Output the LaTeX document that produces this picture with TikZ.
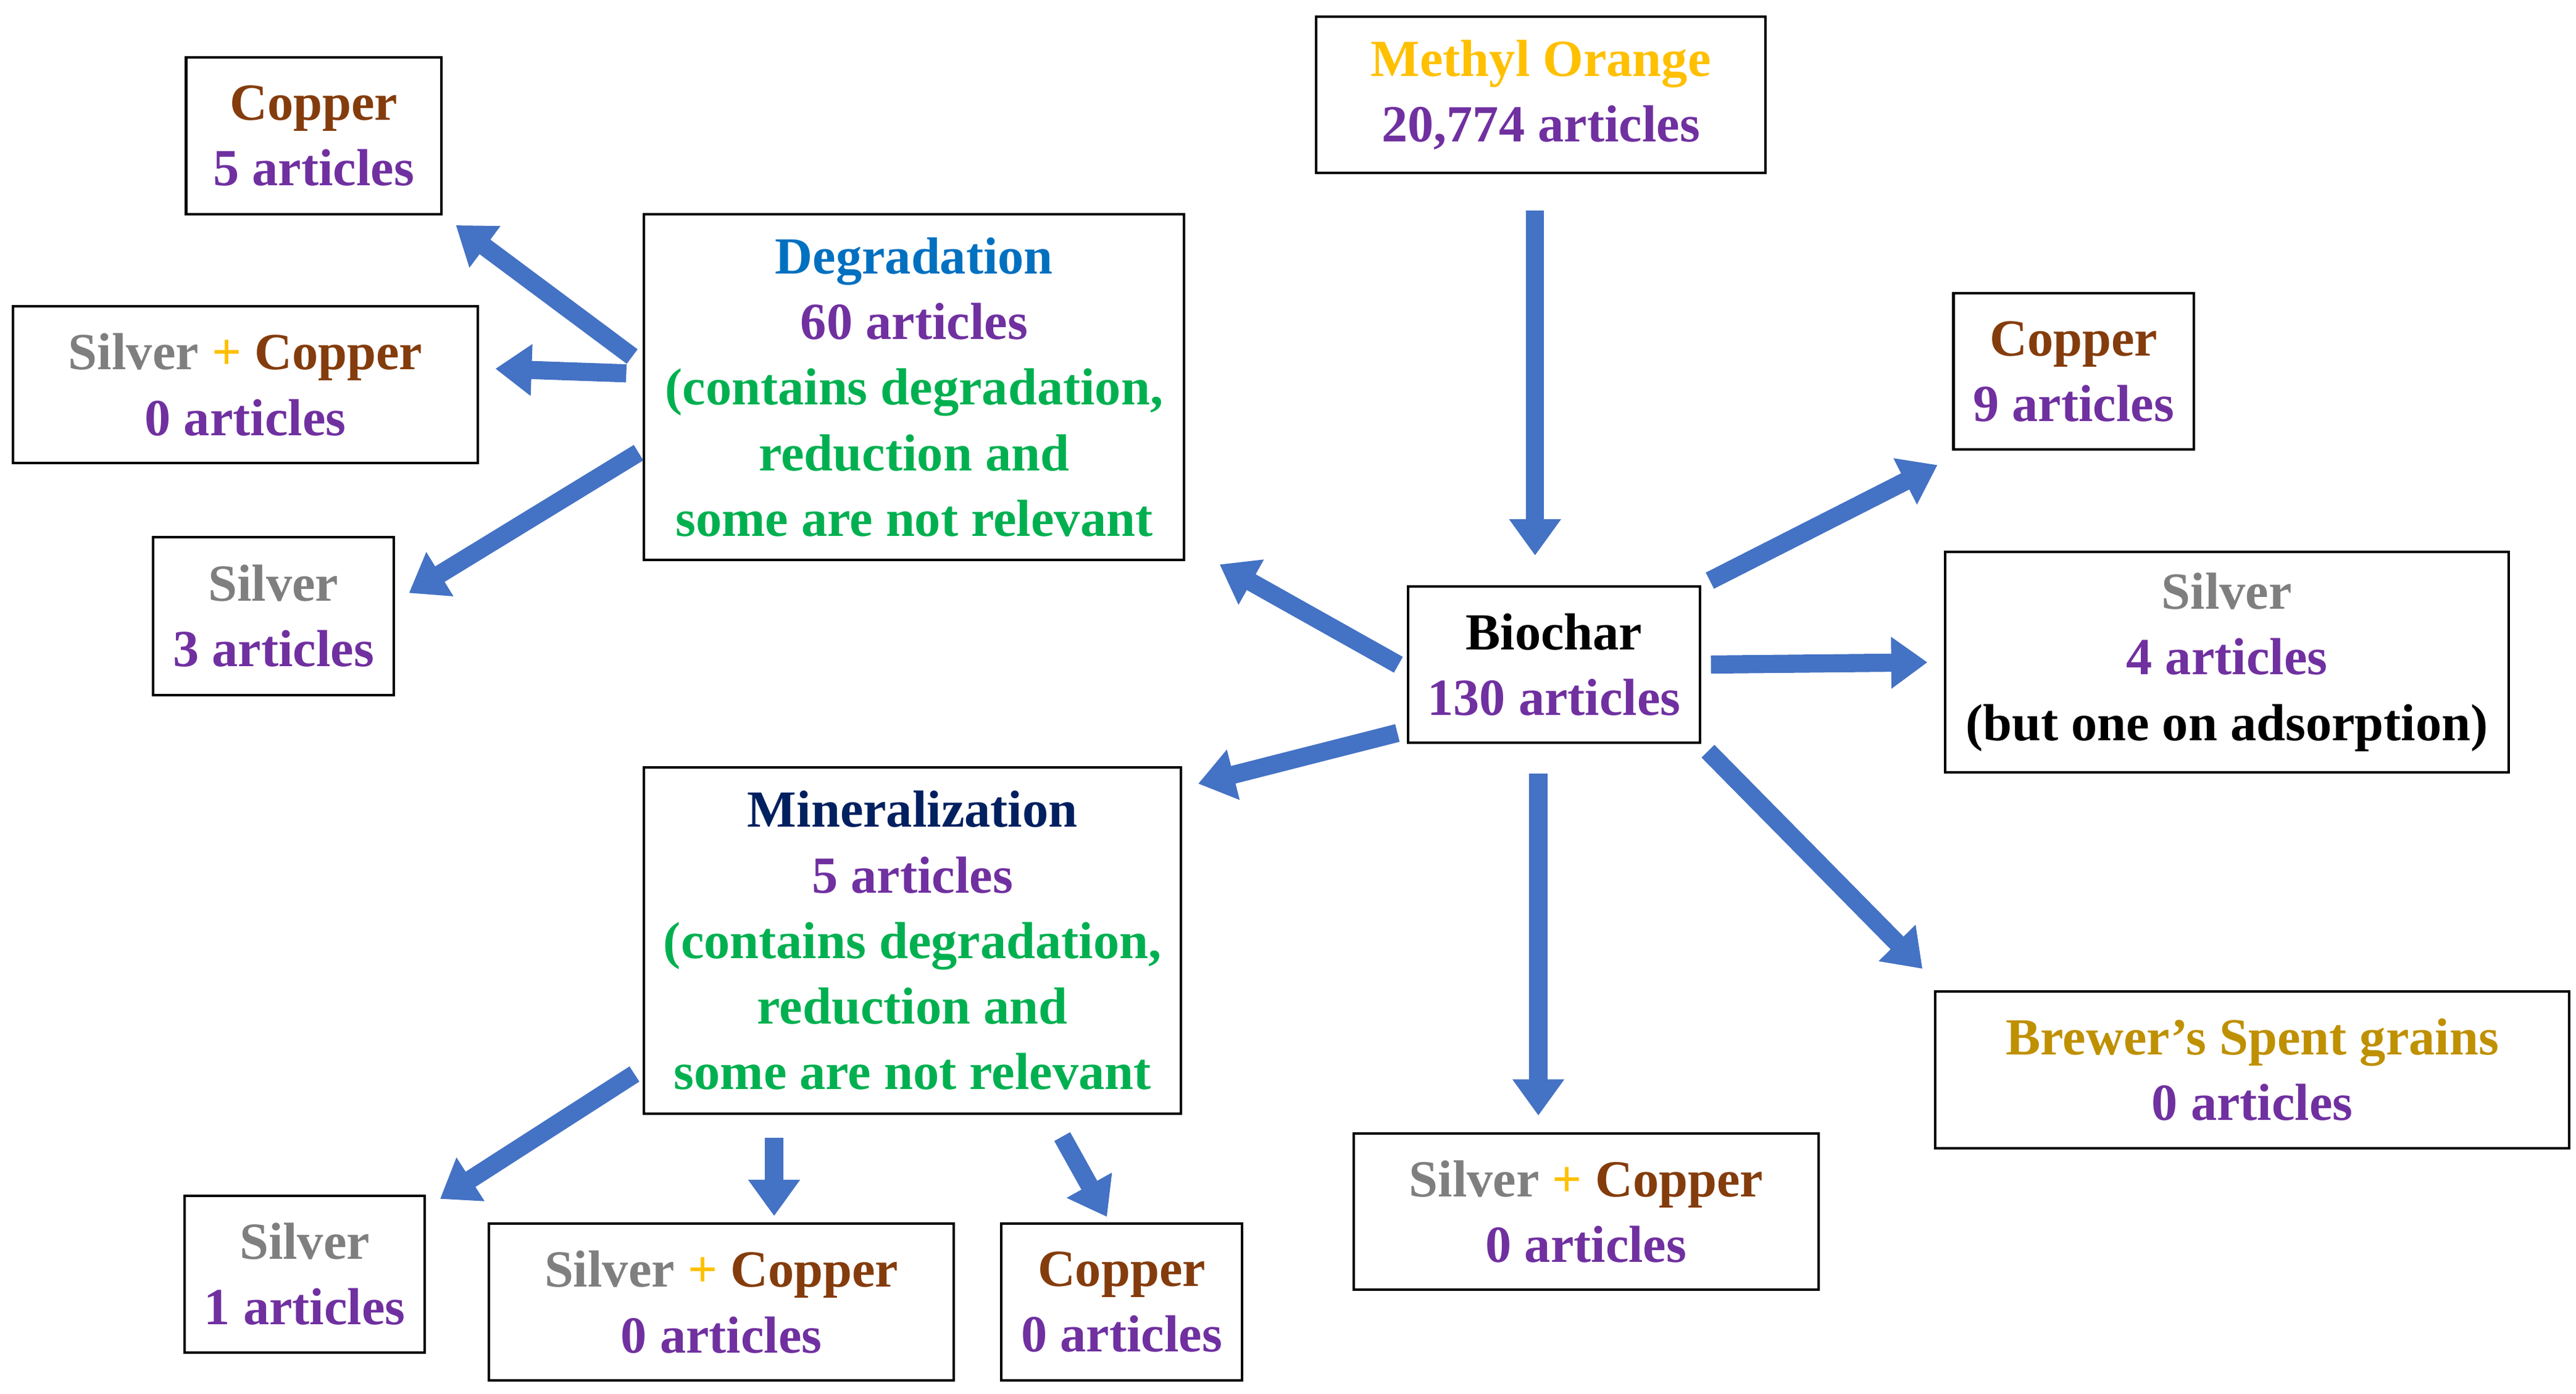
\documentclass[tikz,border=0pt]{standalone}
\usepackage{fontspec}
\setmainfont{Liberation Serif}
\usetikzlibrary{arrows.meta}
\definecolor{cu}{HTML}{843C0C}
\definecolor{ag}{HTML}{7F7F7F}
\definecolor{gold}{HTML}{FFC000}
\definecolor{pur}{HTML}{7030A0}
\definecolor{degc}{HTML}{0070C0}
\definecolor{grn}{HTML}{00B050}
\definecolor{minc}{HTML}{002060}
\definecolor{brw}{HTML}{BF9000}
\definecolor{arr}{HTML}{4472C4}
\def\u{0.03cm}
\tikzset{
 box/.style={draw=black,line width=1.3pt,align=center,inner sep=0pt,font=\bfseries\fontsize{27}{34}\selectfont},
 bigarrow/.style={draw=arr,line width=11*\u,-{Triangle[length=22*\u,width=30*\u]},shorten >=10*\u,shorten <=6*\u}
}
\newcommand{\bx}[6]{\node[box,minimum width=#3*\u,minimum height=#4*\u] (#1) at (#2) {#6};}
\begin{document}
\begin{tikzpicture}[x=0.03cm,y=-0.03cm]
\useasboundingbox (0,0) rectangle (1564,846);
\bx{cutl}{190.5,82.5}{155}{95}{}{\textcolor{cu}{Copper}\\\textcolor{pur}{5 articles}}
\bx{sctl}{149,233.5}{282}{95}{}{\textcolor{ag}{Silver} \textcolor{gold}{+} \textcolor{cu}{Copper}\\\textcolor{pur}{0 articles}}
\bx{agl}{166,374}{146}{96}{}{\textcolor{ag}{Silver}\\\textcolor{pur}{3 articles}}
\bx{deg}{555,235}{328}{210}{}{\textcolor{degc}{Degradation}\\\textcolor{pur}{60 articles}\\\textcolor{grn}{(contains degradation,}\\\textcolor{grn}{reduction and}\\\textcolor{grn}{some are not relevant}}
\bx{mo}{935.5,57.5}{273}{95}{}{\textcolor{gold}{Methyl Orange}\\\textcolor{pur}{20,774 articles}}
\bx{cur}{1259,225.5}{146}{95}{}{\textcolor{cu}{Copper}\\\textcolor{pur}{9 articles}}
\bx{bio}{943.5,403.5}{177}{95}{}{Biochar\\\textcolor{pur}{130 articles}}
\bx{agr}{1352,402}{342}{134}{}{\textcolor{ag}{Silver}\\\textcolor{pur}{4 articles}\\(but one on adsorption)}
\bx{min}{554,571}{326}{210}{}{\textcolor{minc}{Mineralization}\\\textcolor{pur}{5 articles}\\\textcolor{grn}{(contains degradation,}\\\textcolor{grn}{reduction and}\\\textcolor{grn}{some are not relevant}}
\bx{brw}{1367.5,649.5}{385}{95}{}{\textcolor{brw}{Brewer’s Spent grains}\\\textcolor{pur}{0 articles}}
\bx{scm}{963,735.5}{282}{95}{}{\textcolor{ag}{Silver} \textcolor{gold}{+} \textcolor{cu}{Copper}\\\textcolor{pur}{0 articles}}
\bx{agb}{185,773.5}{146}{95}{}{\textcolor{ag}{Silver}\\\textcolor{pur}{1 articles}}
\bx{scb}{438,790.5}{282}{95}{}{\textcolor{ag}{Silver} \textcolor{gold}{+} \textcolor{cu}{Copper}\\\textcolor{pur}{0 articles}}
\bx{cub}{681,790.5}{146}{95}{}{\textcolor{cu}{Copper}\\\textcolor{pur}{0 articles}}
\draw[bigarrow,shorten <=22*\u,shorten >=18*\u] ([xshift=-3.5*\u]mo.south) -- ([xshift=-11.5*\u]bio.north);
\draw[bigarrow] ([yshift=-3*\u]bio.west) -- ([xshift=12*\u,yshift=3*\u]deg.east |- deg.south);
\draw[bigarrow] ([yshift=-40*\u]bio.west) -- ([yshift=-13*\u]min.north east);
\draw[bigarrow] (bio.north east) -- ([yshift=-4*\u]cur.south west);
\draw[bigarrow] (bio.east) -- (agr.west);
\draw[bigarrow] (bio.south east) -- ([yshift=6*\u]brw.north west);
\draw[bigarrow,shorten <=18*\u] ([xshift=-9.5*\u]bio.south) -- ([xshift=-29*\u]scm.north);
\draw[bigarrow,shorten <=8*\u] ([yshift=-92*\u]deg.north west) -- (cutl.south east);
\draw[bigarrow,shorten <=10*\u] ([yshift=8*\u]deg.west) -- ([yshift=10*\u]sctl.east);
\draw[bigarrow,shorten <=3*\u] ([yshift=-144*\u]deg.north west) -- ([yshift=-40*\u]agl.north east);
\draw[bigarrow,shorten <=6*\u] ([yshift=28*\u]min.south west) -- ([yshift=-8*\u]agb.north east);
\draw[bigarrow,shorten >=4*\u] ([xshift=-84*\u,yshift=-8*\u]min.south) -- ([xshift=32*\u]scb.north);
\draw[bigarrow,shorten >=4*\u] ([xshift=88*\u,yshift=-8*\u]min.south) -- ([xshift=-7*\u]cub.north);
\end{tikzpicture}
\end{document}
